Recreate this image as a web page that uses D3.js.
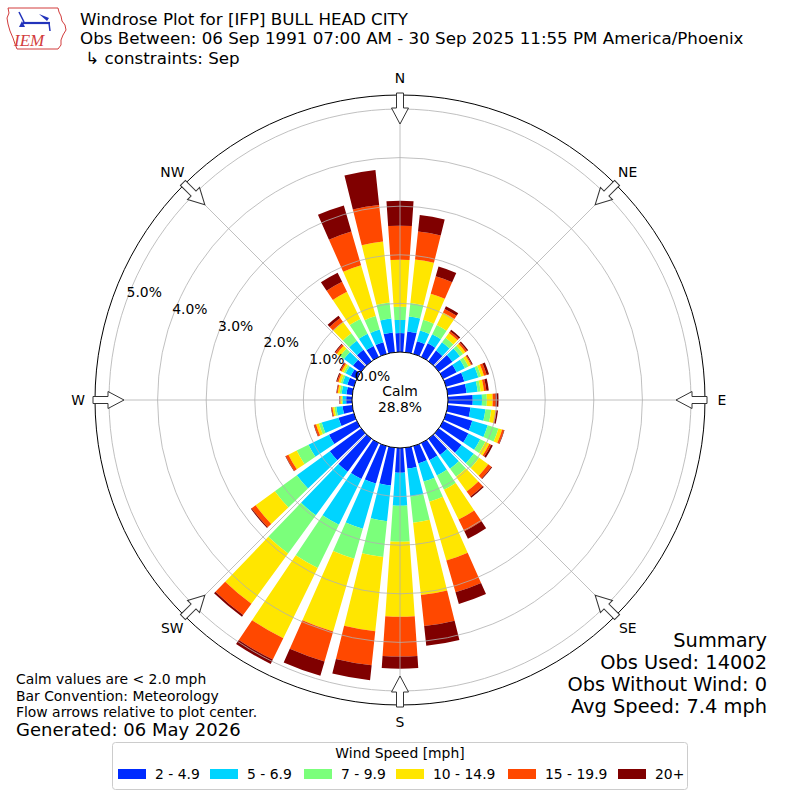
<!DOCTYPE html>
<html><head><meta charset="utf-8">
<script src="https://cdn.jsdelivr.net/npm/d3@7"></script>
<style>
body{margin:0;background:#fff}
svg{display:block}
text{font-family:"DejaVu Sans",sans-serif;fill:#000}
</style>
</head><body>
<svg id="chart" width="800" height="800"></svg>
<script>
// ---------------- data ----------------
const directions = [0,10,20,30,40,50,60,70,80,90,100,110,120,130,140,150,160,170,
                    180,190,200,210,220,230,240,250,260,270,280,290,300,310,320,330,340,350];
const speedBins = ["2 - 4.9","5 - 6.9","7 - 9.9","10 - 14.9","15 - 19.9","20+"];
const binColors = ["#002bff","#00d4ff","#7bff7b","#ffe600","#ff4800","#800000"];
// percent of observations per direction, per speed bin
const spd2to4 = [0.39,0.43,0.27,0.31,0.27,0.35,0.31,0.39,0.39,0.51,0.47,0.56,0.58,0.58,0.41,0.39,0.37,0.43,
                 0.51,0.78,0.80,0.82,0.84,0.80,0.64,0.33,0.20,0.12,0.12,0.14,0.14,0.21,0.29,0.25,0.25,0.41];
const spd5to6 = [0.27,0.31,0.23,0.21,0.21,0.19,0.19,0.30,0.23,0.19,0.31,0.33,0.27,0.31,0.35,0.35,0.39,0.58,
                 0.68,0.74,0.97,1.05,1.11,0.84,0.47,0.36,0.13,0.07,0.10,0.10,0.12,0.23,0.23,0.28,0.27,0.29];
const spd7to9 = [0.27,0.28,0.23,0.21,0.12,0.08,0.08,0.06,0.06,0.10,0.12,0.23,0.12,0.14,0.21,0.33,0.43,0.54,
                 0.74,0.74,0.64,0.99,0.97,0.56,0.27,0.06,0.04,0.02,0.04,0.04,0.04,0.10,0.19,0.34,0.29,0.33];
const spd10to14 = [0.97,0.90,0.56,0.29,0.12,0.06,0.06,0.06,0.07,0.12,0.09,0.08,0.09,0.23,0.37,0.68,1.26,1.50,
                   1.54,1.54,1.56,1.61,1.28,0.49,0.19,0.06,0.04,0.03,0.04,0.05,0.05,0.08,0.29,0.62,1.09,1.26];
const spd15to19 = [0.70,0.58,0.37,0.08,0.04,0.04,0.02,0.06,0.05,0.06,0.02,0.04,0.04,0.08,0.13,0.27,0.68,0.64,
                   0.82,0.70,0.64,0.49,0.29,0.10,0.06,0.04,0.02,0.01,0.02,0.03,0.03,0.04,0.10,0.23,0.72,0.76];
const spd20plus = [0.51,0.34,0.21,0.06,0.04,0.03,0.02,0.05,0.05,0.06,0.03,0.01,0.04,0.02,0.03,0.17,0.25,0.41,
                   0.25,0.31,0.31,0.10,0.04,0.02,0.01,0.01,0.01,0.01,0.01,0.02,0.02,0.02,0.06,0.21,0.56,0.72];
const ringTicks = [0,1,2,3,4,5];
const ringLabels = ["0.0%","1.0%","2.0%","3.0%","4.0%","5.0%"];
const compassAngles = [0,45,90,135,180,225,270,315];
const compassLabels = ["N","NE","E","SE","S","SW","W","NW"];
const calmPct = "28.8%";
const titleLines = ["Windrose Plot for [IFP] BULL HEAD CITY",
  "Obs Between: 06 Sep 1991 07:00 AM - 30 Sep 2025 11:55 PM America/Phoenix",
  " \u21b3 constraints: Sep"];
const noteLines = ["Calm values are < 2.0 mph","Bar Convention: Meteorology","Flow arrows relative to plot center."];
const generatedText = "Generated: 06 May 2026";
const summaryLines = ["Summary","Obs Used: 14002","Obs Without Wind: 0","Avg Speed: 7.4 mph"];

// ---------------- drawing ----------------
const series = [spd2to4, spd5to6, spd7to9, spd10to14, spd15to19, spd20plus];
const svg = d3.select("#chart");
const cx = 400, cy = 400;
const r = d3.scaleLinear().domain([0,5]).range([48,291]);
const rOuterPct = 5.288;
const rad = d => d*Math.PI/180;
const g = svg.append("g").attr("transform",`translate(${cx},${cy})`);

// bars
const stacked = [];
directions.forEach((dir,i)=>{
  let base = 0;
  series.forEach((s,k)=>{
    stacked.push({dir, k, y0: base, y1: base + s[i]});
    base += s[i];
  });
});
const halfW = 3.9;
const arc = d3.arc()
  .innerRadius(d=>r(d.y0)).outerRadius(d=>r(d.y1))
  .startAngle(d=>rad(d.dir-halfW)).endAngle(d=>rad(d.dir+halfW));
g.append("g").selectAll("path").data(stacked).join("path")
  .attr("d",arc).attr("fill",d=>binColors[d.k]);

// grid rings
g.append("g").selectAll("circle").data(ringTicks.slice(1)).join("circle")
  .attr("r",d=>r(d)).attr("fill","none").attr("stroke","#b0b0b0").attr("stroke-width",0.8);
// radial grid lines
g.append("g").selectAll("line").data(compassAngles).join("line")
  .attr("x1",d=>r(0)*Math.sin(rad(d))).attr("y1",d=>-r(0)*Math.cos(rad(d)))
  .attr("x2",d=>r(rOuterPct)*Math.sin(rad(d))).attr("y2",d=>-r(rOuterPct)*Math.cos(rad(d)))
  .attr("stroke","#b0b0b0").attr("stroke-width",0.8);
// outer circle
g.append("circle").attr("r",r(rOuterPct)).attr("fill","none").attr("stroke","#000").attr("stroke-width",1);
// calm circle
g.append("circle").attr("r",r(0)).attr("fill","#fff").attr("stroke","#000").attr("stroke-width",1);
g.append("text").attr("x",0).attr("y",-4).attr("text-anchor","middle").attr("font-size",13.9).text("Calm");
g.append("text").attr("x",0).attr("y",12).attr("text-anchor","middle").attr("font-size",13.9).text(calmPct);

// ring labels
const labAng = rad(20);
g.append("g").selectAll("text").data(ringTicks).join("text")
  .attr("x",d=>-r(d)*Math.cos(labAng)).attr("y",d=>-r(d)*Math.sin(labAng)-3)
  .attr("font-size",13.9).attr("text-anchor","start")
  .text((d,i)=>ringLabels[i]);

// arrows (pointing inward)
const arrowPts = [[-3.5,-307],[3.5,-307],[3.5,-292],[8.5,-292],[0,-276],[-8.5,-292],[-3.5,-292]];
g.append("g").selectAll("polygon").data(compassAngles).join("polygon")
  .attr("points",arrowPts.map(p=>p.join(",")).join(" "))
  .attr("transform",d=>`rotate(${d})`)
  .attr("fill","#fff").attr("stroke","#333").attr("stroke-width",1);

// compass labels
g.append("g").selectAll("text").data(compassAngles).join("text")
  .attr("x",d=>322*Math.sin(rad(d))).attr("y",d=>-322*Math.cos(rad(d))+5)
  .attr("text-anchor","middle").attr("font-size",13.9)
  .text((d,i)=>compassLabels[i]);

// titles
svg.append("g").selectAll("text").data(titleLines).join("text")
  .attr("x",80).attr("y",(d,i)=>24.5+i*19.5).attr("font-size",16.7)
  .attr("xml:space","preserve").style("white-space","pre").text(d=>d);

// logo
const logo = svg.append("g");
logo.append("path")
  .attr("d","M8,8 L58,8 L59,12 L61,16 L62,21 L65,25 L66,30 L63,35 L61,40 L61,45 L58,49 L17,49 L15,44 L13,38 L10,31 L8,24 L7,18 L9,13 Z")
  .attr("fill","none").attr("stroke","#d23c3c").attr("stroke-width",1);
logo.append("line").attr("x1",23).attr("y1",23).attr("x2",50).attr("y2",23).attr("stroke","#2233bb").attr("stroke-width",2.2);
logo.append("line").attr("x1",19).attr("y1",12).attr("x2",24).attr("y2",22).attr("stroke","#2233bb").attr("stroke-width",1.5);
logo.append("path").attr("d","M39,14 L49,18 L47,21 Z").attr("fill","#2233bb");
logo.append("line").attr("x1",49).attr("y1",23).attr("x2",50).attr("y2",31).attr("stroke","#2233bb").attr("stroke-width",1.5);
logo.append("path").attr("d","M19,27 L22,21 L25,27 Z").attr("fill","#2233bb");
logo.append("text").attr("x",14).attr("y",46).attr("font-size",17)
  .style("font-family","'Liberation Serif',serif").style("font-style","italic").style("fill","#d23c3c").text("IEM");

// notes bottom-left
svg.append("g").selectAll("text").data(noteLines).join("text")
  .attr("x",16).attr("y",(d,i)=>684+i*16.5).attr("font-size",13.9).text(d=>d);
svg.append("text").attr("x",16).attr("y",736).attr("font-size",18).text(generatedText);

// summary bottom-right
svg.append("g").selectAll("text").data(summaryLines).join("text")
  .attr("x",767).attr("y",(d,i)=>647+i*22).attr("text-anchor","end").attr("font-size",19.4).text(d=>d);

// legend
const leg = svg.append("g");
leg.append("rect").attr("x",112.5).attr("y",742.5).attr("width",575).attr("height",47).attr("rx",3)
  .attr("fill","#fff").attr("stroke","#cccccc").attr("stroke-width",1);
leg.append("text").attr("x",400).attr("y",758).attr("text-anchor","middle").attr("font-size",13.9).text("Wind Speed [mph]");
const legX = [118,210,304,396,508,618];
leg.selectAll("rect.sw").data(speedBins).join("rect").attr("class","sw")
  .attr("x",(d,i)=>legX[i]).attr("y",769).attr("width",28).attr("height",10).attr("fill",(d,i)=>binColors[i]);
leg.selectAll("text.lb").data(speedBins).join("text").attr("class","lb")
  .attr("x",(d,i)=>legX[i]+37).attr("y",779).attr("font-size",13.9).text(d=>d);
</script>
</body></html>
